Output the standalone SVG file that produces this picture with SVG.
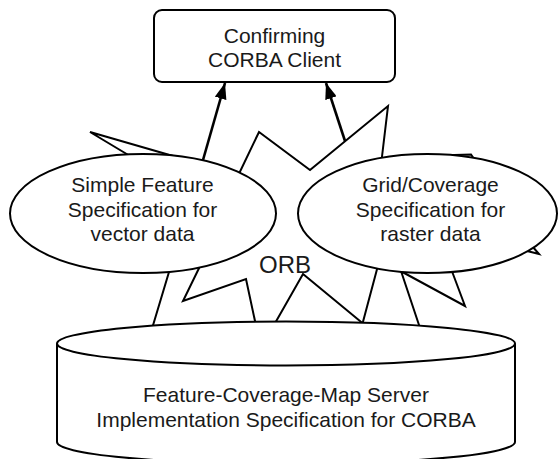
<svg xmlns="http://www.w3.org/2000/svg" width="558" height="459" viewBox="0 0 558 459">
<style>
  .ln { fill: none; stroke: #000; stroke-width: 2; stroke-linejoin: miter; }
  .shape { fill: #fff; stroke: #000; stroke-width: 2; }
  .txt { font-family: "Liberation Sans", Arial, sans-serif; font-size: 21px; fill: #1a1a1a; text-anchor: middle; }
  .orbtxt { font-family: "Liberation Sans", Arial, sans-serif; font-size: 24px; fill: #1a1a1a; text-anchor: middle; }
  .arrow { fill: none; stroke: #000; stroke-width: 2.6; }
</style>
<defs>
  <marker id="head" viewBox="0 0 16 12" refX="16" refY="6" markerWidth="16" markerHeight="12" markerUnits="userSpaceOnUse" orient="auto">
    <path d="M0,0 L16,6 L0,12 z" fill="#000"/>
  </marker>
</defs>

<g id="orb">
  <path class="ln" d="M140,162 L90,132 L180,158
    M236,180 L259,132 L310,170 L388,106 L381,165
    M420,156 L471,154.5 L485,175
    M515,248 L539,254 L532,246
    M450,266 L465,306 L395,268
    M398,262 L418,322 L422,334
    M380,258 L360,333
    M270,332 L303,274 L366,326
    M203,260 L183,301 L246,279 L258,335
    M172,262 L151,332"/>
</g>

<g id="simple-feature">
  <ellipse class="shape" cx="143" cy="213.5" rx="133" ry="59.5"/>
  <text class="txt" x="142.5" y="192">Simple Feature</text>
  <text class="txt" x="142.5" y="216.5">Specification for</text>
  <text class="txt" x="142.5" y="241">vector data</text>
</g>

<g id="grid-coverage">
  <ellipse class="shape" cx="427.5" cy="213.5" rx="129.5" ry="59.5"/>
  <text class="txt" x="430.5" y="192">Grid/Coverage</text>
  <text class="txt" x="430.5" y="216.5">Specification for</text>
  <text class="txt" x="430.5" y="241">raster data</text>
</g>

<g id="server">
  <path class="shape" d="M57,343.5 L57,442 A229,22 0 0 0 515,442 L515,343.5"/>
  <ellipse class="shape" cx="286" cy="343.5" rx="229" ry="22"/>
  <text class="txt" x="286" y="402">Feature-Coverage-Map Server</text>
  <text class="txt" x="286" y="426.5">Implementation Specification for CORBA</text>
</g>

<g id="orb-label">
  <text class="orbtxt" x="285" y="273">ORB</text>
</g>

<g id="client">
  <rect class="shape" x="154" y="10" width="241" height="72" rx="8" ry="8"/>
  <text class="txt" x="274.5" y="42.5">Confirming</text>
  <text class="txt" x="274.5" y="67">CORBA Client</text>
</g>

<g id="connectors">
  <path class="arrow" d="M203,160 L225,83" marker-end="url(#head)"/>
  <path class="arrow" d="M345,141 L326,83" marker-end="url(#head)"/>
</g>
</svg>
